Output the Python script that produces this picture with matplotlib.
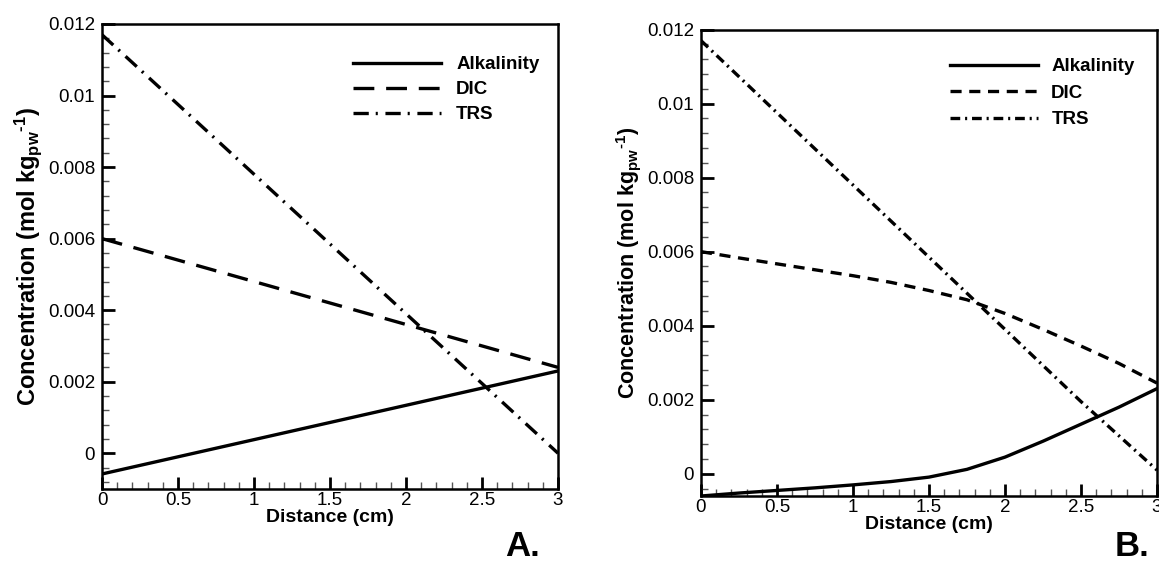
import matplotlib
matplotlib.use("Agg")
import matplotlib.pyplot as plt
from matplotlib.ticker import MultipleLocator, FuncFormatter

plt.rcParams['font.family'] = ['Liberation Sans', 'DejaVu Sans']
plt.rcParams['mathtext.fontset'] = 'custom'
plt.rcParams['mathtext.rm'] = 'Liberation Sans:bold'
plt.rcParams['mathtext.bf'] = 'Liberation Sans:bold'
plt.rcParams['mathtext.it'] = 'Liberation Sans:bold'
plt.rcParams['mathtext.default'] = 'bf'
plt.rcParams['lines.scale_dashes'] = False

# ---- data: panel A ----
dist_a = [0, 0.5, 1, 1.5, 2, 2.5, 3]
alk_a = [-0.00058, -0.0001, 0.00038, 0.00086, 0.00134, 0.00182, 0.0023]
dic_a = [0.006, 0.0054, 0.0048, 0.0042, 0.0036, 0.003, 0.0024]
trs_a = [0.0117, 0.00975, 0.0078, 0.00585, 0.0039, 0.00195, 0.0]

# ---- data: panel B ----
dist_b = [0, 0.25, 0.5, 0.75, 1, 1.25, 1.5, 1.75, 2, 2.25, 2.5, 2.75, 3]
alk_b = [-0.0006, -0.00052, -0.00045, -0.00038, -0.0003, -0.00021, -0.00009,
         0.00012, 0.00045, 0.00088, 0.00134, 0.0018, 0.0023]
dic_b = [0.006, 0.00583, 0.00567, 0.00551, 0.00535, 0.00517, 0.00495,
         0.0047, 0.00433, 0.0039, 0.00345, 0.00298, 0.00245]
dist_b_trs = [0, 0.5, 1, 1.5, 2, 2.5, 3]
trs_b = [0.0117, 0.00975, 0.0078, 0.00585, 0.0039, 0.00195, 0.0001]

labels = ["Alkalinity", "DIC", "TRS"]
x_ticks = [0, 0.5, 1, 1.5, 2, 2.5, 3]
ylabel = r"Concentration (mol kg$_{pw}$$^{\text{-}1}$)"
xlabel = "Distance (cm)"

W, H = 1159, 563
fig = plt.figure(figsize=(W / 100, H / 100), dpi=100)

def px_axes(l, r, t, b):
    return fig.add_axes([l / W, 1 - b / H, (r - l) / W, (b - t) / H])

axA = px_axes(102, 558, 24, 489)
axB = px_axes(701, 1157, 29.5, 496)

lw = 2.4
axA.plot(dist_a, alk_a, color='black', lw=lw, label=labels[0])
axA.plot(dist_a, dic_a, color='black', lw=lw, dashes=[15, 8.5], label=labels[1])
axA.plot(dist_a, trs_a, color='black', lw=lw, dashes=[11, 5, 1.5, 5.5], label=labels[2])

axB.plot(dist_b, alk_b, color='black', lw=lw, label=labels[0])
axB.plot(dist_b, dic_b, color='black', lw=lw, dashes=[8, 5.5], label=labels[1])
axB.plot(dist_b_trs, trs_b, color='black', lw=lw, dashes=[7, 3.5, 1.5, 3.5], label=labels[2])

def yfmt(v, pos):
    if abs(v) < 1e-12:
        return "0"
    return f"{v:g}"

for ax, ylo in ((axA, -0.001), (axB, -0.0006)):
    ax.set_xlim(0, 3)
    ax.set_ylim(ylo, 0.012)
    ax.set_xticks(x_ticks)
    ax.xaxis.set_major_formatter(FuncFormatter(lambda v, p: f"{v:g}"))
    ax.yaxis.set_major_locator(MultipleLocator(0.002))
    ax.yaxis.set_major_formatter(FuncFormatter(yfmt))
    ax.xaxis.set_minor_locator(MultipleLocator(0.1))
    ax.yaxis.set_minor_locator(MultipleLocator(0.0004))
    ax.tick_params(which='major', direction='in', length=9, width=2,
                   labelsize=13.5, top=False, right=False)
    ax.tick_params(which='minor', direction='in', length=5, width=1,
                   color='#555555', top=False, right=False)
    ax.tick_params(axis='x', which='major', pad=2)
    ax.tick_params(axis='y', which='major', pad=5)
    for s in ax.spines.values():
        s.set_linewidth(1.8)

axA.set_xlabel(xlabel, fontsize=14, fontweight='bold', labelpad=0)
axB.set_xlabel(xlabel, fontsize=14, fontweight='bold', labelpad=0)
axA.set_ylabel(ylabel, fontsize=17, fontweight='bold', labelpad=3)
axB.set_ylabel(ylabel, fontsize=15.5, fontweight='bold', labelpad=3)

legA = axA.legend(loc='upper left', bbox_to_anchor=(353 / W, 1 - 56 / H),
                  bbox_transform=fig.transFigure, frameon=False,
                  handlelength=4.7, handletextpad=0.8, labelspacing=0.42,
                  borderpad=0, borderaxespad=0,
                  prop={'weight': 'bold', 'size': 13.5})
legB = axB.legend(loc='upper left', bbox_to_anchor=(950 / W, 1 - 58 / H),
                  bbox_transform=fig.transFigure, frameon=False,
                  handlelength=4.7, handletextpad=0.7, labelspacing=0.5,
                  borderpad=0, borderaxespad=0,
                  prop={'weight': 'bold', 'size': 13.5})

fig.text(523 / W, 1 - 547 / H, "A.", fontsize=25, fontweight='bold',
         ha='center', va='center')
fig.text(1132 / W, 1 - 547 / H, "B.", fontsize=25, fontweight='bold',
         ha='center', va='center')

fig.savefig("out.png", dpi=100)
